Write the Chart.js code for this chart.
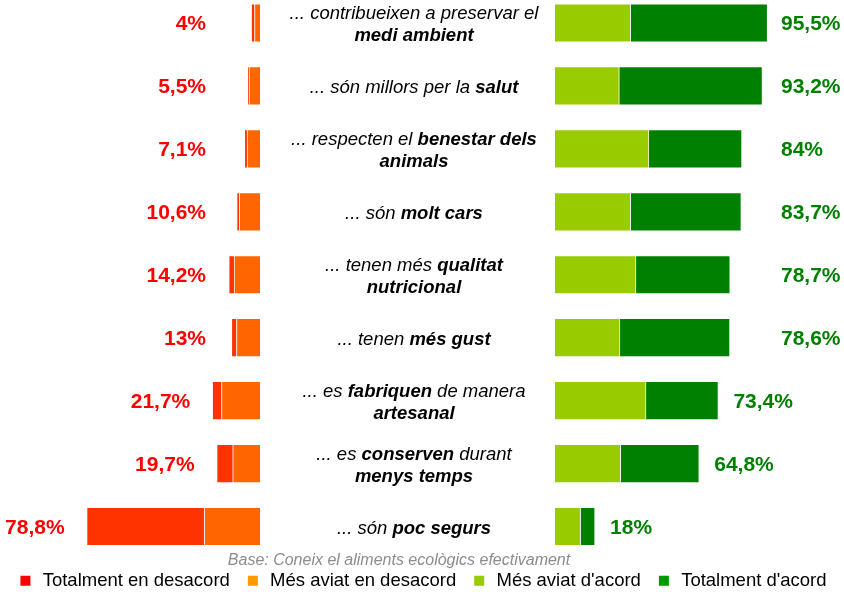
<!DOCTYPE html>
<html lang="ca">
<head>
<meta charset="utf-8">
<title>Aliments ecològics</title>
<script src="https://cdn.jsdelivr.net/npm/chart.js@4.4.1/dist/chart.umd.min.js"></script>
<style>
  html, body { margin: 0; padding: 0; background: #fff; overflow: hidden; }
  .wrap { position: relative; width: 844px; height: 592px; overflow: hidden; }
  canvas { position: absolute; left: 0; top: 0; }
</style>
</head>
<body>
<div class="wrap"><canvas id="ecoChart" width="844" height="600"></canvas></div>
<script>
// Etiquetes (el text entre * va en negreta)
const categories = [
    '... contribueixen a preservar el\n*medi ambient*',
    '... són millors per la *salut*',
    '... respecten el *benestar dels*\n*animals*',
    '... són *molt cars*',
    '... tenen més *qualitat*\n*nutricional*',
    '... tenen *més gust*',
    '... es *fabriquen* de manera\n*artesanal*',
    '... es *conserven* durant\n*menys temps*',
    '... són *poc segurs*'
];

// Totals que es mostren
const disagreeTotals = [4, 5.5, 7.1, 10.6, 14.2, 13, 21.7, 19.7, 78.8];
const agreeTotals = [95.5, 93.2, 84, 83.7, 78.7, 78.6, 73.4, 64.8, 18];

// Segments (%)
const totalDisagree = [1.5, 0.5, 1.2, 1.2, 2.4, 2.3, 4.2, 7.3, 53.5];
const ratherDisagree = [2.5, 5.0, 5.9, 9.4, 11.8, 10.7, 17.5, 12.4, 25.3];
const ratherAgree = [34.0, 28.9, 42.2, 34.0, 36.4, 29.2, 40.9, 29.5, 11.5];
const totalAgree = [61.5, 64.3, 41.8, 49.7, 42.3, 49.4, 32.5, 35.3, 6.5];

const legendNames = ['Totalment en desacord', 'Més aviat en desacord', "Més aviat d'acord", "Totalment d'acord"];
const baseNote = 'Base: Coneix el aliments ecològics efectivament';

const FONT = '"Liberation Sans", Arial, Helvetica, sans-serif';
Chart.defaults.font.family = FONT;

// geometria dels dos eixos (el gràfic ocupa tota l'amplada)
const W = 844;
const leftZero = 260, leftPx = 2.2;
const rightZero = 555, rightPx = 2.226;

const legendColors = ['#ff0000', '#ff9900', '#99cc00', '#009900'];
const edge = 'rgba(255,255,255,0.55)';

const fmt = v => String(v).replace('.', ',') + '%';

function drawRich(ctx, text, cx, cy) {
    const lines = text.split('\n');
    lines.forEach((line, j) => {
        const parts = line.split('*').map((t, k) => ({ t, bold: k % 2 === 1 })).filter(p => p.t);
        const fontFor = p => (p.bold ? 'italic bold ' : 'italic ') + '18.5px ' + FONT;
        let w = 0;
        parts.forEach(p => { ctx.font = fontFor(p); p.w = ctx.measureText(p.t).width; w += p.w; });
        let x = cx - w / 2;
        const y = cy + (j - (lines.length - 1) / 2) * 22;
        parts.forEach(p => { ctx.font = fontFor(p); ctx.fillText(p.t, x, y); x += p.w; });
    });
}

const sideLabels = {
    id: 'sideLabels',
    afterDatasetsDraw(chart) {
        const { ctx } = chart;
        const yScale = chart.scales.y;
        const redMeta = chart.getDatasetMeta(1);
        const darkMeta = chart.getDatasetMeta(3);
        ctx.save();
        ctx.textBaseline = 'middle';
        categories.forEach((c, i) => {
            const cy = yScale.getPixelForValue(i);

            const red = redMeta.data[i];
            const leftEnd = Math.min(red.x, red.base);
            ctx.font = 'bold 21px ' + FONT;
            ctx.fillStyle = '#ff0000';
            ctx.textAlign = 'right';
            ctx.fillText(fmt(disagreeTotals[i]), Math.min(leftEnd - 22, 206), cy + 1.5);

            const dark = darkMeta.data[i];
            const rightEnd = Math.max(dark.x, dark.base);
            ctx.fillStyle = '#008000';
            ctx.textAlign = 'left';
            const rx = rightEnd > 725 ? Math.max(rightEnd + 13, 781) : rightEnd + 15;
            ctx.fillText(fmt(agreeTotals[i]), rx, cy + 1.5);

            ctx.fillStyle = '#000';
            drawRich(ctx, c, 414, cy + 2);
        });
        ctx.font = 'italic 16px ' + FONT;
        ctx.fillStyle = '#8c8c8c';
        ctx.textAlign = 'center';
        ctx.textBaseline = 'alphabetic';
        ctx.fillText(baseNote, 399, 565);
        ctx.restore();
    }
};

const common = { stack: 'all', barThickness: 38.5, borderWidth: 1, borderColor: edge, clip: false };

new Chart(document.getElementById('ecoChart'), {
    type: 'bar',
    data: {
        labels: categories.map(c => c.replace(/\*/g, '').replace('\n', ' ')),
        datasets: [
            { ...common, label: legendNames[1], data: ratherDisagree, backgroundColor: '#ff6600', xAxisID: 'xL' },
            { ...common, label: legendNames[0], data: totalDisagree, backgroundColor: '#ff3300', xAxisID: 'xL' },
            { ...common, label: legendNames[2], data: ratherAgree, backgroundColor: '#99cc00', xAxisID: 'xR' },
            { ...common, label: legendNames[3], data: totalAgree, backgroundColor: '#008000', xAxisID: 'xR' }
        ]
    },
    options: {
        indexAxis: 'y',
        responsive: false,
        animation: false,
        layout: { padding: { top: 23, left: 0, right: 0, bottom: 0 } },
        scales: {
            y: { type: 'category', display: false, offset: false },
            xL: {
                type: 'linear', position: 'bottom', stacked: true, reverse: true, display: false,
                min: (leftZero - W) / leftPx, max: leftZero / leftPx
            },
            xR: {
                type: 'linear', position: 'bottom', stacked: true,
                min: -rightZero / rightPx, max: (W - rightZero) / rightPx,
                grid: { display: false }, border: { display: false }, ticks: { display: false },
                afterFit: s => { s.height = 30; }
            }
        },
        plugins: {
            tooltip: { enabled: false },
            legend: {
                position: 'bottom',
                onClick: null,
                labels: {
                    usePointStyle: true,
                    pointStyle: 'rect',
                    boxWidth: 16,
                    boxHeight: 10,
                    padding: 15,
                    color: '#000',
                    font: { size: 18.5 },
                    generateLabels: () => legendNames.map((text, i) => ({
                        text,
                        fillStyle: legendColors[i],
                        strokeStyle: legendColors[i],
                        lineWidth: 0,
                        pointStyle: 'rect',
                        hidden: false,
                        datasetIndex: [1, 0, 2, 3][i]
                    }))
                }
            }
        }
    },
    plugins: [sideLabels]
});
</script>
</body>
</html>
